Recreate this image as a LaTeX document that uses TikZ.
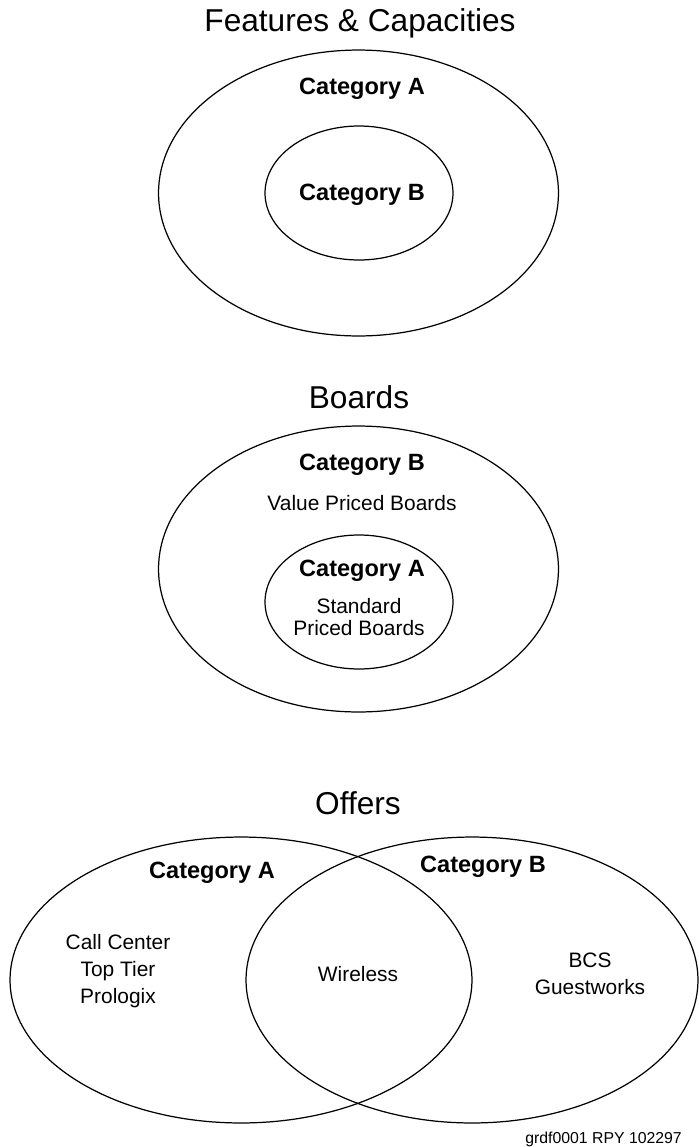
\documentclass[tikz,border=0pt]{standalone}
\usepackage{fontspec}
\setmainfont{Liberation Sans}
\usetikzlibrary{shapes.geometric}
\tikzset{
  set/.style     = { draw, ellipse, line width=0.7pt, inner sep=0pt },
  heading/.style = { font=\fontsize{18}{22}\selectfont },
  catname/.style = { font=\fontsize{13.4}{16}\selectfont\bfseries },
  member/.style  = { font=\fontsize{11.9}{#1}\selectfont, align=center },
  member/.default = 13,
  figid/.style   = { font=\fontsize{9}{11}\selectfont, anchor=east }
}

\begin{document}
\begin{tikzpicture}[x=0.02cm, y=-0.02cm]
  \useasboundingbox (0,0) rectangle (698,1147);
  % Features and capacities
  \node[heading] (fcTitle) at (360,23) {Features \& Capacities};
  \node[set, minimum width=8cm, minimum height=5.72cm] (fcOuter) at (358.5,193) {};
  \node[set, minimum width=3.76cm, minimum height=2.68cm] (fcInner) at (359,193) {};
  \node[catname] (fcCatA) at (362,89) {Category A};
  \node[catname] (fcCatB) at (362,195) {Category B};
  % Boards
  \node[heading] (bdTitle) at (359,397) {Boards};
  \node[set, minimum width=8cm, minimum height=5.72cm] (bdOuter) at (358.5,569) {};
  \node[set, minimum width=3.76cm, minimum height=2.68cm] (bdInner) at (359,602) {};
  \node[catname] (bdCatB) at (362,465) {Category B};
  \node[member] (bdValue) at (362,503) {Value Priced Boards};
  \node[catname] (bdCatA) at (362,571) {Category A};
  \node[member] (bdStd) at (359,617) {Standard\\Priced Boards};
  % Offers
  \node[heading] (ofTitle) at (358,803) {Offers};
  \node[set, minimum width=9.24cm, minimum height=5.72cm] (ofLeft) at (241,980) {};
  \node[set, minimum width=9.04cm, minimum height=5.72cm] (ofRight) at (472,980) {};
  \node[catname] (ofCatA) at (212,873) {Category A};
  \node[catname] (ofCatB) at (483,867) {Category B};
  \node[member=15.6] (ofOnlyA) at (118,971) {Call Center\\Top Tier\\Prologix};
  \node[member] (ofBoth) at (358,974) {Wireless};
  \node[member=15.6] (ofOnlyB) at (590,974) {BCS\\Guestworks};
  \node[figid] (figLabel) at (688,1139) {grdf0001 RPY 102297};
\end{tikzpicture}
\end{document}
